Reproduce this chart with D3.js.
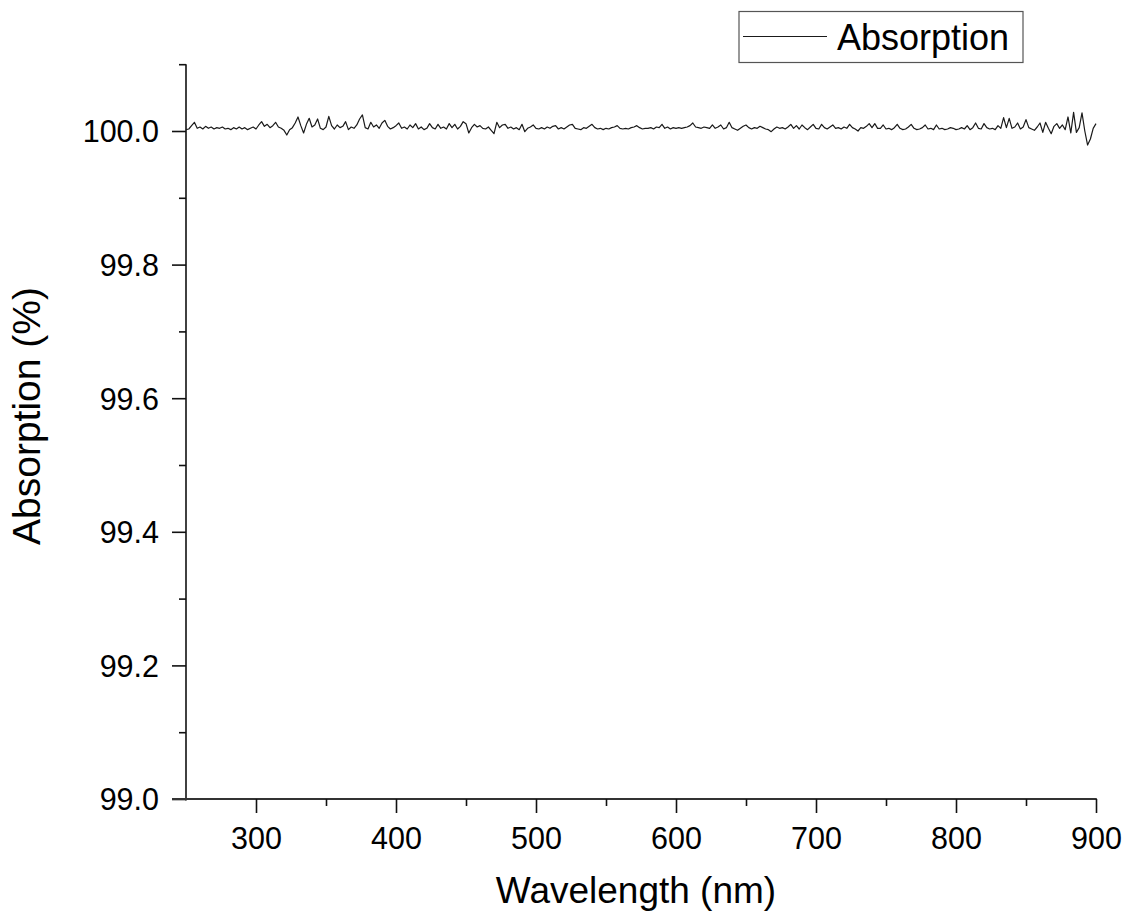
<!DOCTYPE html>
<html>
<head>
<meta charset="utf-8">
<script src="https://cdn.jsdelivr.net/npm/d3@7"></script>
<style>
  html, body { margin: 0; padding: 0; background: #fff; }
  svg text { font-family: "Liberation Sans", Arial, sans-serif; fill: #000; }
</style>
</head>
<body>
<svg id="chart" width="1129" height="917"></svg>
<script>
// ---- data ----
const wlStart = 250, wlEnd = 900, wlStep = 2;           // sampling grid (nm)
const wavelengths = d3.range(wlStart, wlEnd + 1, wlStep);
const absorption = [
  // 250 - 300
  100.002,100.003,100.008,100.013,100.004,100.006,100.003,100.007,100.004,100.006,
  100.003,100.005,100.004,100.006,100.003,100.004,100.002,100.005,100.003,100.006,
  100.003,100.005,100.002,100.004,100.006,100.003,
  // 302 - 350
  100.009,100.014,100.007,100.010,100.005,100.008,100.013,100.006,100.004,100.001,
  99.994,100.002,100.005,100.012,100.021,100.008,99.997,100.010,100.019,100.006,
  100.009,100.018,100.004,100.002,100.006,
  // 352 - 400
  100.022,100.008,100.003,100.009,100.005,100.007,100.014,100.002,100.006,100.004,
  100.009,100.018,100.024,100.005,100.003,100.013,100.006,100.009,100.004,100.012,
  100.016,100.007,100.003,100.005,100.008,
  // 402 - 418
  100.012,100.004,100.006,100.003,100.009,100.005,100.011,100.003,100.006,
  // 420 - 500
  100.002,100.004,100.011,100.005,100.003,100.010,100.004,100.006,100.003,100.011,
  100.005,100.010,100.003,100.007,100.014,100.011,99.997,100.005,100.010,100.006,
  100.008,100.004,100.003,100.006,100.001,99.996,100.013,100.005,100.009,100.010,
  100.004,100.006,100.003,100.005,100.002,100.010,99.999,100.004,100.006,100.009,
  100.004,
  // 502 - 578
  100.003,100.005,100.003,100.006,100.004,100.007,100.008,100.003,100.005,100.003,
  100.006,100.009,100.010,100.004,100.003,100.002,100.005,100.004,100.007,100.010,
  100.005,100.003,100.004,100.002,100.004,100.003,100.005,100.006,100.008,100.004,
  100.003,100.004,100.003,100.005,100.006,100.008,100.005,100.003,100.004,
  // 580 - 744
  100.004,100.005,100.003,100.006,100.005,100.010,100.004,100.006,100.003,100.005,
  100.004,100.005,100.004,100.005,100.006,100.008,100.012,100.006,100.005,100.004,
  100.006,100.005,100.004,100.009,100.004,100.006,100.009,100.003,100.005,100.013,
  100.005,100.003,100.001,100.004,100.007,100.009,100.005,100.003,100.005,100.004,
  100.007,100.005,100.003,100.002,99.999,100.003,100.006,100.004,100.005,100.003,
  100.006,100.010,100.004,100.008,100.003,100.009,100.005,100.002,100.006,100.010,
  100.004,100.003,100.010,100.005,100.003,100.006,100.009,100.004,100.005,100.003,
  100.006,100.004,100.010,100.005,100.003,100.000,100.005,100.004,100.007,100.011,
  100.005,100.011,100.004,
  // 746 - 900
  100.004,100.009,100.003,100.004,100.002,100.005,100.010,100.004,100.002,100.003,
  100.006,100.010,100.004,100.002,100.003,100.005,100.009,100.003,100.004,100.002,
  100.009,100.003,100.004,100.002,100.003,100.005,100.004,100.002,100.003,100.005,
  100.003,100.008,100.002,100.005,100.012,100.004,100.003,100.011,100.005,100.003,
  100.004,100.002,100.008,100.004,100.020,100.005,100.019,100.004,100.006,100.012,
  100.003,100.006,100.017,100.005,100.003,100.001,100.006,100.012,99.998,100.013,
  100.004,99.996,100.007,100.011,100.004,100.009,100.002,100.021,99.997,100.028,
  99.998,100.005,100.027,100.000,99.979,99.988,100.004,100.011
];
const xMajorTicks = [300, 400, 500, 600, 700, 800, 900];
const xMinorTicks = [350, 450, 550, 650, 750, 850];
const yMajorTicks = [99.0, 99.2, 99.4, 99.6, 99.8, 100.0];
const yMinorTicks = [99.1, 99.3, 99.5, 99.7, 99.9, 100.1];
const seriesName = "Absorption";
const xTitle = "Wavelength (nm)";
const yTitle = "Absorption (%)";

const data = wavelengths.map((w, i) => ({ w, a: absorption[i] }));

// ---- layout ----
const svg = d3.select("#chart");
const x = d3.scaleLinear().domain([250, 900]).range([186, 1096]);
const y = d3.scaleLinear().domain([99.0, 100.0]).range([799, 131]);
const yTop = y(100.1);

const axisColor = "#111";
const tickFont = 30.5;

// Y axis
const gy = svg.append("g").attr("transform", "translate(186,0)");
gy.append("line").attr("x1", 0).attr("x2", 0).attr("y1", yTop).attr("y2", 800.5)
  .attr("stroke", axisColor).attr("stroke-width", 1.6);
gy.call(g => {
  const ax = d3.axisLeft(y).tickValues(yMajorTicks).tickSize(14).tickSizeOuter(0)
    .tickPadding(13).tickFormat(d3.format(".1f"));
  const sub = g.append("g").call(ax);
  sub.select(".domain").remove();
  sub.selectAll(".tick line").attr("stroke", axisColor).attr("stroke-width", 1.6);
  sub.selectAll(".tick text").attr("font-size", tickFont).attr("dy", "0.36em")
    .style("font-family", '"Liberation Sans", Arial, sans-serif').attr("fill", "#000");
  const minor = g.append("g").call(d3.axisLeft(y).tickValues(yMinorTicks).tickSize(7).tickFormat(""));
  minor.select(".domain").remove();
  minor.selectAll(".tick line").attr("stroke", axisColor).attr("stroke-width", 1.6);
});

// X axis
const gx = svg.append("g").attr("transform", "translate(0,799)");
gx.append("line").attr("x1", 172).attr("x2", 1096.8).attr("y1", 0).attr("y2", 0)
  .attr("stroke", "#333").attr("stroke-width", 1.8);
gx.call(g => {
  const ax = d3.axisBottom(x).tickValues(xMajorTicks).tickSize(14).tickSizeOuter(0)
    .tickPadding(14).tickFormat(d3.format("d"));
  const sub = g.append("g").call(ax);
  sub.select(".domain").remove();
  sub.selectAll(".tick line").attr("stroke", axisColor).attr("stroke-width", 1.6);
  sub.selectAll(".tick text").attr("font-size", tickFont).attr("y", 49.5).attr("dy", 0)
    .style("font-family", '"Liberation Sans", Arial, sans-serif').attr("fill", "#000");
  const minor = g.append("g").call(d3.axisBottom(x).tickValues(xMinorTicks).tickSize(7).tickFormat(""));
  minor.select(".domain").remove();
  minor.selectAll(".tick line").attr("stroke", axisColor).attr("stroke-width", 1.6);
});

// Line
const line = d3.line().x(d => x(d.w)).y(d => y(d.a));
svg.append("path").datum(data).attr("d", line)
  .attr("fill", "none").attr("stroke", "#1a1a1a").attr("stroke-width", 1.2)
  .attr("stroke-linejoin", "round");

// Axis titles
svg.append("text").attr("x", 636).attr("y", 903).attr("text-anchor", "middle")
  .attr("font-size", 37).text(xTitle);
svg.append("text").attr("transform", "translate(40,416) rotate(-90)")
  .attr("text-anchor", "middle").attr("font-size", 39).text(yTitle);

// Legend
const lg = svg.append("g");
lg.append("rect").attr("x", 739).attr("y", 11.5).attr("width", 284).attr("height", 51)
  .attr("fill", "#fff").attr("stroke", "#555").attr("stroke-width", 1.2);
lg.append("line").attr("x1", 743).attr("x2", 827).attr("y1", 36.5).attr("y2", 36.5)
  .attr("stroke", "#1a1a1a").attr("stroke-width", 1.2);
lg.append("text").attr("x", 837).attr("y", 49.5).attr("font-size", 36).text(seriesName);
</script>
</body>
</html>
